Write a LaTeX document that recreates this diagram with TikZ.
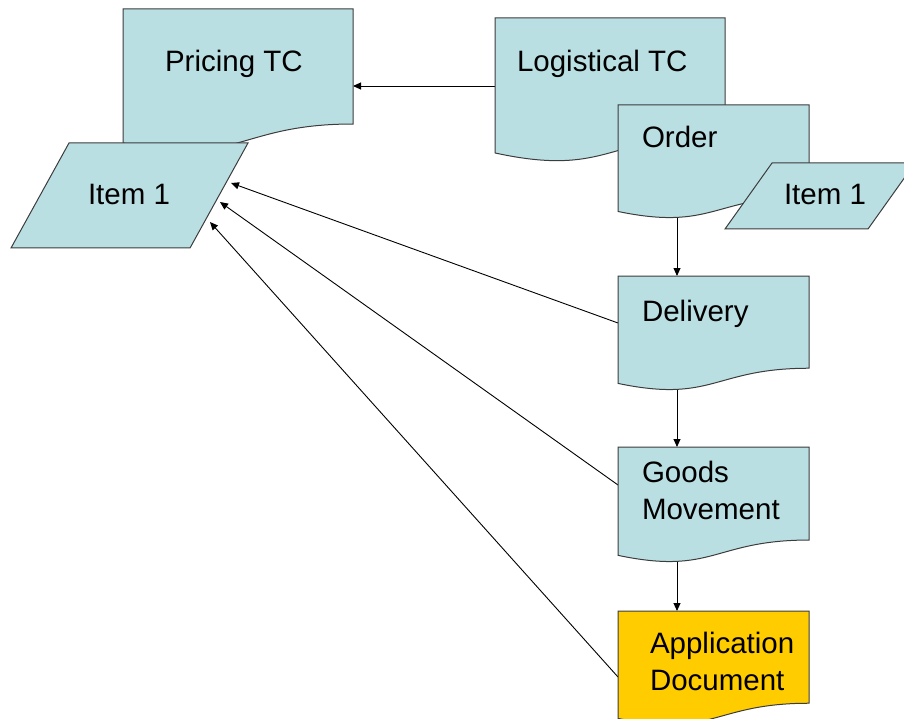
\documentclass[tikz,border=0pt]{standalone}
\usepackage{fontspec}
\setmainfont{Liberation Sans}
\usetikzlibrary{calc,arrows.meta}
\definecolor{docblue}{RGB}{186,223,227}
\definecolor{docyellow}{RGB}{255,204,0}
\definecolor{edgegray}{RGB}{60,60,60}
\tikzset{
  frame/.style={draw=none,inner sep=0pt,outer sep=0pt,anchor=north west},
  shapeline/.style={draw=edgegray,line width=1pt,line join=miter},
  conn/.style={draw=black,line width=0.9pt,-{Triangle[length=8pt,width=7pt]}},
  label/.style={inner sep=0pt,outer sep=0pt,anchor=base west,align=left,
    font=\fontsize{29.5}{37}\selectfont},
}
\newcommand\docpath[2]{%
  \filldraw[shapeline,fill=#2] (#1.north west) -- (#1.north east)
    -- ($(#1.north east)!0.802!(#1.south east)$)
    .. controls ($(#1.north)!0.802!(#1.south)$) and ($(#1.north)!1.1075!(#1.south)$)
    .. ($(#1.north west)!0.934!(#1.south west)$) -- cycle;}
\begin{document}
\begin{tikzpicture}[x=1pt,y=-1pt]
\useasboundingbox (0,0) rectangle (904,719);
\begin{scope}
\clip (0,0) rectangle (904,719);
% frames
\node[frame,minimum width=230pt,minimum height=143.4pt] (pricing) at (123,9) {};
\node[frame,minimum width=230pt,minimum height=144.5pt] (logist) at (495,18) {};
\node[frame,minimum width=191pt,minimum height=114pt] (order) at (618,105) {};
\node[frame,minimum width=191pt,minimum height=115pt] (delivery) at (618,276) {};
\node[frame,minimum width=191pt,minimum height=116pt] (goods) at (618,447) {};
\node[frame,minimum width=191pt,minimum height=115pt] (appdoc) at (618,611) {};
\node[frame,minimum width=237pt,minimum height=105pt] (itemL) at (11,143) {};
\node[frame,minimum width=190pt,minimum height=66pt] (itemR) at (725,163) {};
\coordinate (col) at (677,0);
\coordinate (tA) at (231,183);
\coordinate (tB) at (220,202);
\coordinate (tC) at (210,222);
\coordinate (lt) at (495,86);
% connectors (behind shapes)
\draw[conn] (lt) -- (lt -| pricing.east);
\draw[conn] (col |- order.center) -- (col |- delivery.north);
\draw[conn] (col |- delivery.center) -- (col |- goods.north);
\draw[conn] (col |- goods.center) -- (col |- appdoc.north);
\draw[conn] ($(delivery.north west)+(0,47)$) -- (tA);
\draw[conn] ($(goods.north west)+(0,38)$) -- (tB);
\draw[conn] ($(appdoc.north west)+(0,66)$) -- (tC);
% shapes
\docpath{pricing}{docblue}
\filldraw[shapeline,fill=docblue] (69,143) -- (248,143) -- (190,248) -- (11,248) -- cycle;
\docpath{logist}{docblue}
\docpath{order}{docblue}
\filldraw[shapeline,fill=docblue] (772,163) -- (915,163) -- (868,229) -- (725,229) -- cycle;
\docpath{delivery}{docblue}
\docpath{goods}{docblue}
\docpath{appdoc}{docyellow}
% texts
\node[label] (tpricing) at (165,72) {Pricing TC};
\node[label] (tlogist) at (517,72) {Logistical TC};
\node[label] (torder) at (642,148) {Order};
\node[label] (titemL) at (88,205) {Item 1};
\node[label] (titemR) at (784,205) {Item 1};
\node[label] (tdelivery) at (642,321) {Delivery};
\node[label] (tgoods) at (642,519) {Goods\\Movement};
\node[label] (tappdoc) at (650,690) {Application\\Document};
\end{scope}
\end{tikzpicture}
\end{document}
